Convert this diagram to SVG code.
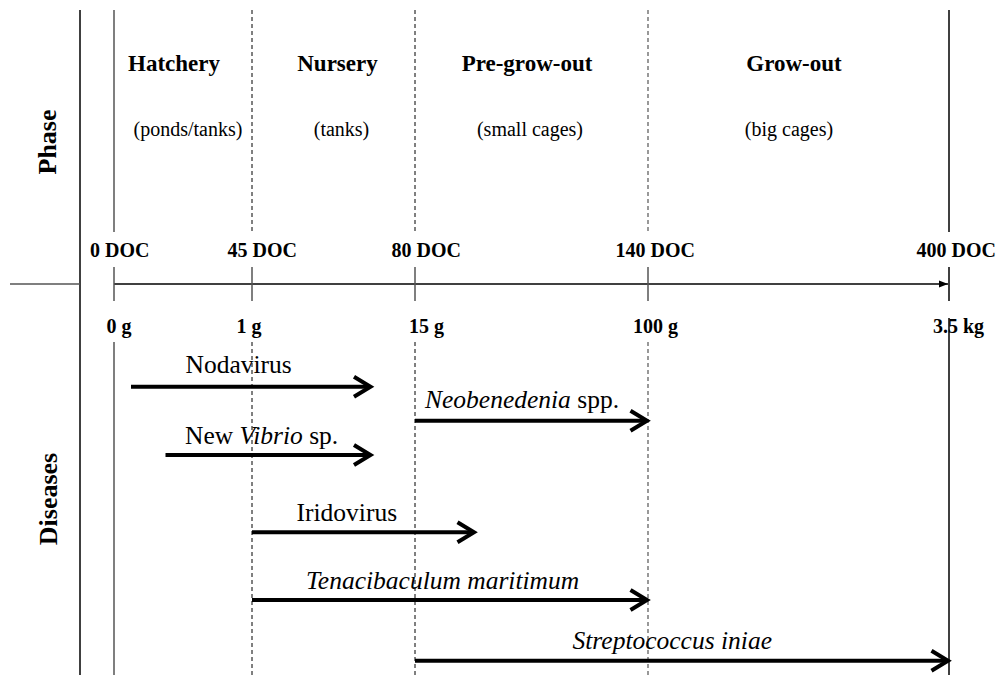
<svg xmlns="http://www.w3.org/2000/svg" width="997" height="675" viewBox="0 0 997 675">
<style>
.side{font-size:26px;font-weight:bold}
.ph{font-size:23px;font-weight:bold;text-anchor:middle}
.sub{font-size:20px;text-anchor:middle}
.ax{font-size:20px;font-weight:bold}
.dz{font-size:25.5px}
.solid{stroke:#000;stroke-width:1.5;fill:none}
.gray{stroke:#555;stroke-width:1.5;fill:none}
.dash{stroke:#000;stroke-width:1;stroke-dasharray:4 3;fill:none}
.dashg{stroke:#555;stroke-width:1.2;stroke-dasharray:4 3;fill:none}
.arr{stroke:#000;stroke-width:4;fill:none}
.head{stroke:#000;stroke-width:4;fill:none;stroke-linecap:butt;stroke-linejoin:miter}
</style>
<defs>
<marker id="tri" markerUnits="userSpaceOnUse" markerWidth="10" markerHeight="8" refX="9" refY="4" orient="auto">
<path d="M0,0.5 L9,4 L0,7.5 Z" fill="#000"/>
</marker>
</defs>
<rect width="997" height="675" fill="#fff"/>

<g id="frame">
<line class="solid" x1="80" y1="10" x2="80" y2="675"/>
<line class="gray" x1="10" y1="284" x2="80" y2="284"/>
<line class="gray" x1="114" y1="10" x2="114" y2="232"/>
<line class="gray" x1="114" y1="342" x2="114" y2="675"/>
<line class="dash" x1="252" y1="10" x2="252" y2="232"/>
<line class="dash" x1="252" y1="342" x2="252" y2="675"/>
<line class="dash" x1="415" y1="10" x2="415" y2="232"/>
<line class="dash" x1="415" y1="342" x2="415" y2="675"/>
<line class="dashg" x1="648" y1="10" x2="648" y2="232"/>
<line class="dashg" x1="648" y1="342" x2="648" y2="675"/>
<line class="solid" x1="949" y1="10" x2="949" y2="232"/>
<line class="solid" x1="949" y1="318" x2="949" y2="675"/>
</g>

<g font-family="'Liberation Serif', Tinos, 'Times New Roman', Times, 'DejaVu Serif', serif" fill="#000">
<g id="axis">
<line x1="114" y1="284" x2="948" y2="284" stroke="#000" stroke-width="1.5" marker-end="url(#tri)"/>
<line class="gray" x1="114" y1="267" x2="114" y2="301"/>
<line class="gray" x1="252" y1="267" x2="252" y2="301"/>
<line class="gray" x1="415" y1="267" x2="415" y2="301"/>
<line class="gray" x1="648" y1="267" x2="648" y2="301"/>
<line class="solid" x1="949" y1="267" x2="949" y2="301"/>
<text class="ax" x="90" y="257">0 DOC</text>
<text class="ax" x="227.5" y="257">45 DOC</text>
<text class="ax" x="391.5" y="257">80 DOC</text>
<text class="ax" x="615.5" y="257">140 DOC</text>
<text class="ax" x="916.5" y="257">400 DOC</text>
<text class="ax" x="106.5" y="333">0 g</text>
<text class="ax" x="236.5" y="333">1 g</text>
<text class="ax" x="409" y="333">15 g</text>
<text class="ax" x="633" y="333">100 g</text>
<text class="ax" x="933" y="333">3.5 kg</text>
</g>

<g id="labels">
<text class="side" transform="translate(56,142) rotate(-90)" text-anchor="middle">Phase</text>
<text class="side" transform="translate(57,499) rotate(-90)" text-anchor="middle">Diseases</text>
</g>

<g id="hatchery">
<text class="ph" x="174" y="71">Hatchery</text>
<text class="sub" x="188" y="136">(ponds/tanks)</text>
</g>
<g id="nursery">
<text class="ph" x="337.5" y="71">Nursery</text>
<text class="sub" x="341.5" y="136">(tanks)</text>
</g>
<g id="pre-grow-out">
<text class="ph" x="527" y="71">Pre-grow-out</text>
<text class="sub" x="530" y="136">(small cages)</text>
</g>
<g id="grow-out">
<text class="ph" x="794" y="71">Grow-out</text>
<text class="sub" x="789" y="136">(big cages)</text>
</g>

<g id="disease-labels">
<text class="dz" x="185.5" y="373">Nodavirus</text>
<text class="dz" x="425" y="408"><tspan font-style="italic">Neobenedenia</tspan> spp.</text>
<text class="dz" x="185" y="443.5">New <tspan font-style="italic">Vibrio</tspan> sp.</text>
<text class="dz" x="296.5" y="521">Iridovirus</text>
<text class="dz" x="306" y="588.5" font-style="italic">Tenacibaculum maritimum</text>
<text class="dz" x="572.5" y="648.5" font-style="italic">Streptococcus iniae</text>
</g>
</g>

<g id="connectors">
<path class="arr" d="M131,386.7 H369"/>
<path class="head" d="M354,376.7 L370.5,386.7 L354,396.7"/>
<path class="arr" d="M415,420.7 H645"/>
<path class="head" d="M630.5,410.7 L647,420.7 L630.5,430.7"/>
<path class="arr" d="M165.5,455 H369"/>
<path class="head" d="M354,445 L370.5,455 L354,465"/>
<path class="arr" d="M252,532.3 H472"/>
<path class="head" d="M457.5,522.3 L474,532.3 L457.5,542.3"/>
<path class="arr" d="M252,600 H645"/>
<path class="head" d="M630.5,590 L647,600 L630.5,610"/>
<path class="arr" d="M415,660.7 H946"/>
<path class="head" d="M931.5,650.7 L948,660.7 L931.5,670.7"/>
</g>
</svg>
